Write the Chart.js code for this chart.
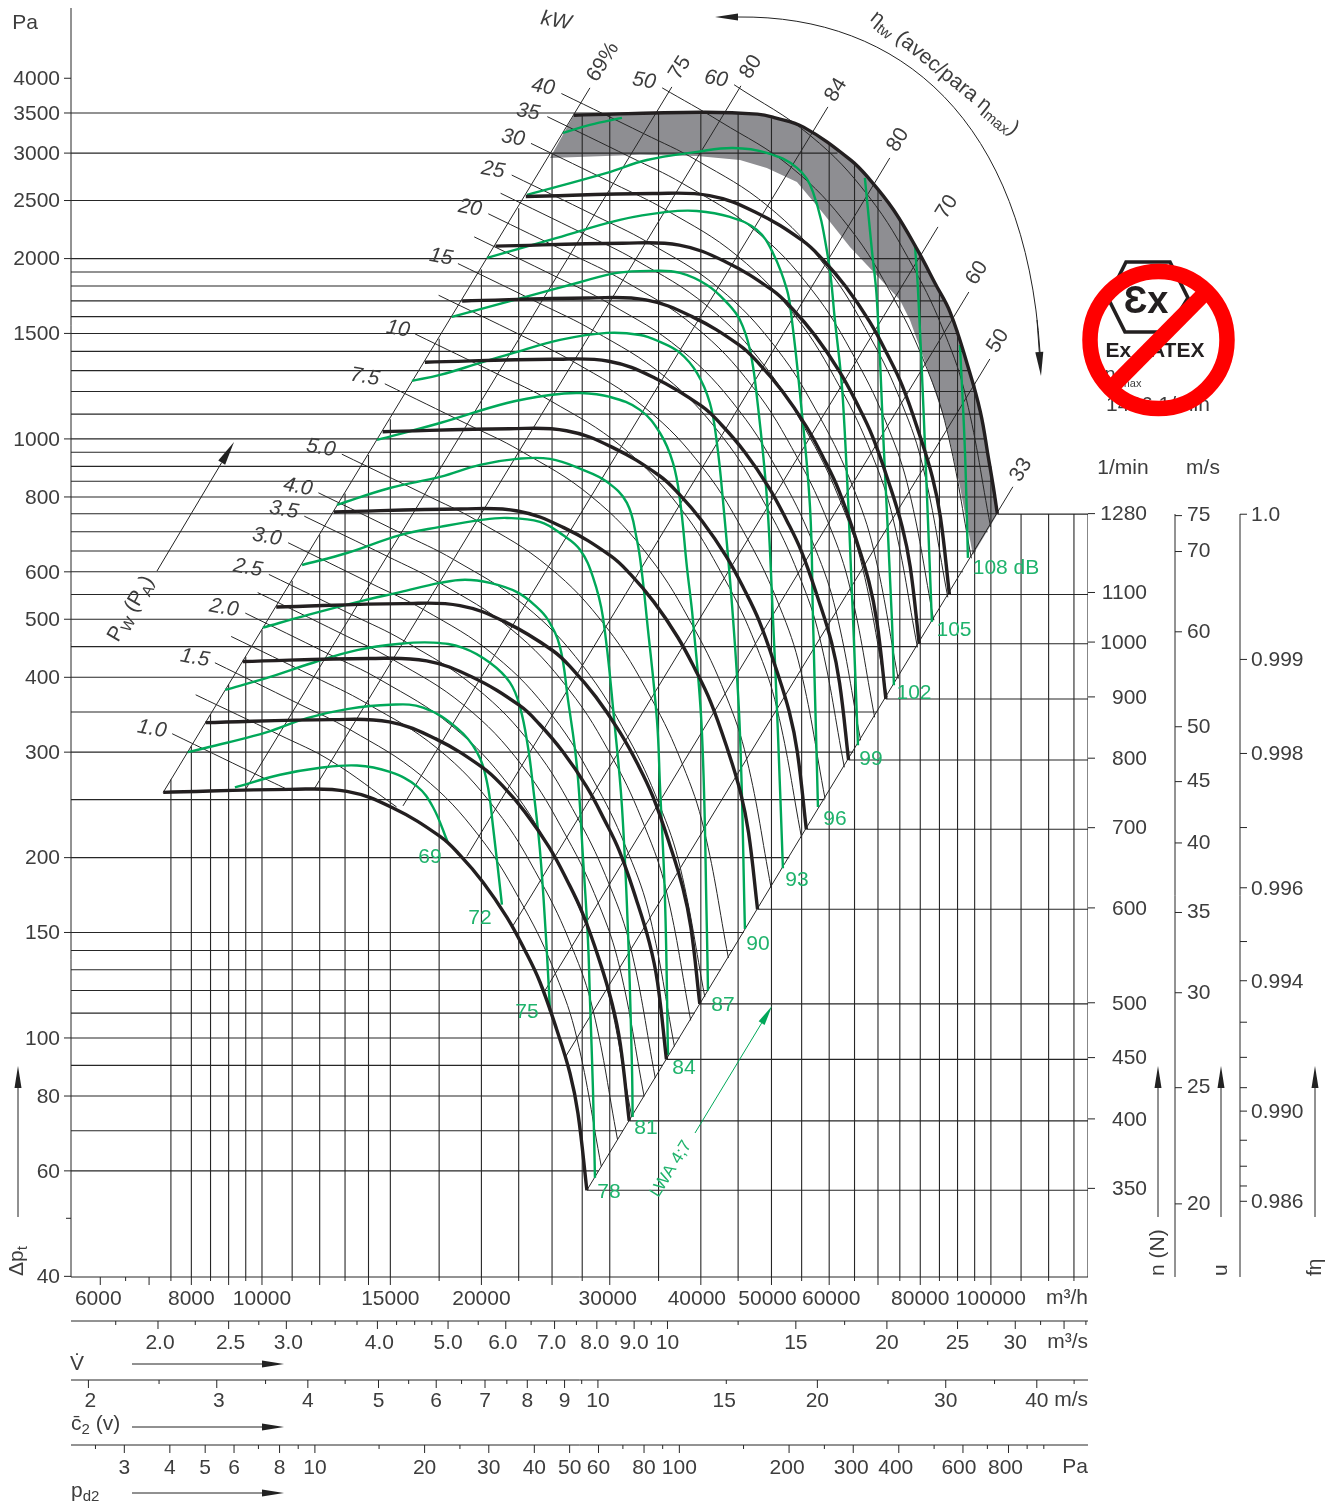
<!DOCTYPE html>
<html>
<head>
<meta charset="utf-8">
<title>Courbe ventilateur</title>
<script src="https://cdn.jsdelivr.net/npm/chart.js@4"></script>
<style>
  html, body { margin: 0; padding: 0; background: #fff; }
  canvas { display: block; }
</style>
</head>
<body>
<canvas id="chart" width="1335" height="1503"></canvas>
<script>
// Axis ranges
const flowMin = 5470, flowMax = 135900;
const dpMin = 39.9, dpMax = 5240;

// Tick values
const flowTicks = [6000,6500,7000,7500,8000,8500,9000,9500,10000,11000,12000,13000,14000,15000,17500,20000,22500,25000,27500,30000,35000,40000,45000,50000,55000,60000,65000,70000,75000,80000,85000,90000,95000,100000,110000,120000,130000];
const flowLong = [6000,7000,8000,9000,10000,12000,14000,15000,20000,25000,30000,40000,50000,60000,70000,80000,100000];
const flowLabels = [6000,8000,10000,15000,20000,30000,40000,50000,60000,80000,100000];
const secTicks = [1.75,2,2.25,2.5,2.75,3,3.25,3.5,3.75,4,4.25,4.5,4.75,5,5.5,6,6.5,7,7.5,8,8.5,9,9.5,10,12.5,15,17.5,20,22.5,25,27.5,30,32.5,35,37.5];
const secLong = [2,2.5,3,4,5,6,7,8,9,10,15,20,25,30,35];
const secLabels = [2,2.5,3,4,5,6,7,8,9,10,15,20,25,30];
const speedTicks = [2,2.5,3,3.5,4,4.5,5,5.5,6,6.5,7,7.5,8,8.5,9,9.5,10,15,20,25,30,35,40,45];
const speedLong = [2,3,4,5,6,7,8,9,10,20,30,40];
const speedLabels = [2,3,4,5,6,7,8,9,10,15,20,30,40];
const pdTicks = [2.5,3,4,5,6,7,8,9,10,15,20,25,30,40,50,60,70,80,90,100,150,200,250,300,400,500,600,700,800,900,1000];
const pdLong = [3,4,5,6,8,10,20,30,40,50,60,80,100,200,300,400,600,800];
const pdLabels = [3,4,5,6,8,10,20,30,40,50,60,80,100,200,300,400,600,800];
const dpTicks = [4000,3500,3000,2500,2000,1500,1000,800,600,500,400,300,200,150,100,80,60,40];
const rpmTicks = [1280,1100,1000,900,800,700,600,500,450,400,350];
const tipTicks = [75,70,60,50,45,40,35,30,25,20];
// f-eta is read against the tip speed it sits next to
const etaTickSpeeds = [75.2,56.9,47.5,41.2,36.7,33.1,30.7,28.35,26.5,25.0,23.9,22.6,21.5,20.7,20.1];
const etaTickLabels = ["1.0","0.999","0.998","","0.996","","0.994","","","","0.990","","","","0.986"];

// Grid lines
const gridV = [7500,8000,8500,9000,9500,10000,11000,12000,13000,14000,15000,17500,20000,22500,25000,27500,30000,35000,40000,45000,50000,55000,60000,65000,70000,75000,80000,85000,90000,95000,100000,110000,120000,130000];
const gridVTop = [270,307,347,389,433,480,580,691,811,940,1079,1469,1918,2428,2997,3460,3490,3510,3510,3500,3430,3300,3100,2865,2620,2340,2050,1780,1520,1240,900,749,749,749];
const gridDp = [3500,3000,2500,2000,1900,1800,1700,1600,1500,1400,1300,1200,1100,1000,950,900,850,800,750,700,650,600,550,500,450,400,350,300,250,200,150,140,130,120,110,100,90,80,70,60];
const gridDpEnd = [45000,61600,70880,80600,82500,84200,86000,88200,89800,91500,93400,95140,96900,98250,98900,99700,100480,101240,102000,98950,95350,91600,87710,83630,79340,74800,69970,64780,59130,52890,45800,44250,42640,40970,39220,37400,35480,33450,31290,28970];

// Efficiency rays, top end then bottom end
const rayLabels = ["69%","75","80","84","80","70","60","50","33"];
const rayTopV = [28180,36500,45400,59760,72660,84600,93280,99680,107200];
const rayTopDp = [3855,3869,3885,3583,2945,2259,1759,1360,832];
const rayLowV = [7320,9477,11785,15610,19100,22100,24450,26030,27910];
const rayLowDp = [257,259,260,244,201,154,120,92.6,55.7];

// Speed curves (thick black)
const rpm350V = [7320,10930,13080,15130,17550,18690,20100,21680,22950,24060,25390,26450,27130,27910];
const rpm350Dp = [257,260,258,242,217,202,182,159,140,124,103,87.4,74.9,55.7];
const rpm400V = [8366,12490,14950,17290,20060,21360,22970,24780,26230,27500,29020,30230,31010,31900];
const rpm400Dp = [336,340,337,316,283,264,238,208,183,162,135,114,97.8,72.7];
const rpm450V = [9411,14050,16820,19450,22560,24030,25840,27870,29510,30930,32640,34010,34880,35880];
const rpm450Dp = [425,430,426,400,359,334,301,263,231,205,170,144,124,92.1];
const rpm500V = [10460,15610,18690,21610,25070,26700,28710,30970,32790,34370,36270,37790,38760,39870];
const rpm500Dp = [524,531,527,494,443,412,371,324,286,253,210,178,153,114];
const rpm600V = [12550,18740,22420,25940,30090,32040,34460,37170,39340,41250,43530,45340,46510,47850];
const rpm600Dp = [755,764,758,711,638,594,535,467,411,364,303,257,220,164];
const rpm700V = [14640,21860,26160,30260,35100,37380,40200,43360,45900,48120,50780,52900,54260,55820];
const rpm700Dp = [1028,1040,1032,968,868,808,728,636,560,496,412,350,300,223];
const rpm800V = [16730,24980,29900,34580,40110,42720,45940,49550,52460,54990,58030,60460,62010,63790];
const rpm800Dp = [1343,1358,1348,1264,1134,1055,951,831,731,648,538,457,391,291];
const rpm900V = [18820,28110,33630,38910,45130,48060,51690,55750,59010,61870,65290,68010,69760,71770];
const rpm900Dp = [1699,1719,1706,1600,1435,1336,1203,1051,926,820,681,578,495,368];
const rpm1000V = [20910,31230,37370,43230,50140,53400,57430,61940,65570,68740,72540,75570,77510,79740];
const rpm1000Dp = [2098,2122,2106,1976,1771,1649,1486,1298,1143,1012,841,713,611,455];
const rpm1100V = [23010,34350,41110,47550,55160,58740,63170,68140,72130,75620,79800,83130,85270,87720];
const rpm1100Dp = [2539,2568,2548,2390,2143,1995,1798,1571,1383,1225,1017,863,740,550];
const rpm1280V = [26770,39970,47830,50600,55330,64180,68350,73510,79290,83930,87990,92850,96730,99220,100790,102070];
const rpm1280Dp = [3470,3510,3485,3435,3315,2923,2702,2413,2068,1814,1624,1330,1110,930,830,749];

// Sound power curves (green)
const db69V = [9180,10590,11900,13500,14980,16320,17160,17990];
const db69Dp = [262,275,282,285,278,263,243,212];
const db72V = [7910,8950,10160,11530,13080,14980,16630,18520,19720,20360,20750,21340];
const db72Dp = [300,311,324,342,354,360,356,329,300,267,225,167];
const db75V = [8900,10160,11750,13500,15470,17160,18870,20550,21890,22590,23170,23540,24060,24520,24840];
const db75Dp = [381,399,423,444,455,457,448,423,392,357,306,263,206,148,111];
const db78V = [10030,11530,13500,15470,17550,18990,20550,22380,23830,24680,25630,26290,27050,27560,28000,28180,28450,28630];
const db78Dp = [484,508,534,555,575,582,575,555,524,499,450,367,283,201,146,116,81.9,58.4];
const db81V = [11350,13080,15470,17550,19910,21680,24060,25870,27310,28450,29360,30490,31180,31780,32180,32250];
const db81Dp = [616,645,691,713,732,738,727,691,653,588,504,330,243,150,89.4,73.8];
const db84V = [12670,14980,17550,19910,22380,24840,27560,29730,31670,32690,33210,33740,34820,35160,35720,36060];
const db84Dp = [776,828,864,905,926,926,888,848,782,678,597,499,340,263,170,93.7];
const db87V = [14380,17550,21680,24840,27310,30030,33000,35160,36630,37450,38280,39010,40140,40780,40910];
const db87Dp = [996,1063,1148,1184,1193,1175,1118,1023,912,791,611,499,323,150,120];
const db90V = [16060,17550,19910,22380,25630,29730,33000,35160,37450,39510,41160,42080,42890,44270,45260,45980];
const db90Dp = [1250,1279,1339,1397,1463,1503,1491,1452,1392,1289,1148,985,791,504,323,152];
const db93V = [18220,23540,27050,30690,34380,37450,40780,43460,45260,46720,47750,49270,50230,51030,51840];
const db93Dp = [1598,1740,1821,1893,1908,1893,1807,1687,1580,1408,1175,800,504,323,192];
const db96V = [20360,25390,30980,35950,39510,43850,47750,50230,52510,53330,54700,56470,57000,57910];
const db96Dp = [2005,2166,2321,2393,2402,2347,2233,2044,1773,1580,1193,770,504,243];
const db99V = [23100,29730,33740,39510,44270,49270,54190,57000,59760,61090,62660,64680,65710];
const db99Dp = [2555,2781,2921,3014,3060,3003,2834,2585,2013,1580,1162,504,308];
const db102LeftV = [25870,28180,31180];
const db102LeftDp = [3242,3344,3434];
const db102RightV = [67160,68660,69760,71320,73150,73610];
const db102RightDp = [2727,2069,1706,958,499,388];
const db105V = [78670,79430,80930,83000];
const db105Dp = [2108,1773,1076,495];
const db108V = [90690,92120,93000];
const db108Dp = [1435,958,633];

// Shaft power curves (thin black)
const kw1V = [7530,9780,10830];
const kw1Dp = [322,276,260];
const kw125V = [8110,10540,12440,15300];
const kw125Dp = [374,321,290,243];
const kw15V = [8618,11190,13210,16540,19870,22890,25270,27040,29210];
const kw15Dp = [423,362,327,274,217,165,128,99.9,61];
const kw175V = [9072,11780,13910,17420,20910,24100,26610,28470,30750];
const kw175Dp = [468,401,362,304,241,183,142,111,67.6];
const kw2V = [9486,12320,14540,18210,21870,25200,27820,29770,32150];
const kw2Dp = [512,438,396,332,263,200,155,121,73.9];
const kw225V = [9865,12810,15130,18940,22740,26210,28930,30960,33440];
const kw225Dp = [554,474,428,359,285,216,168,131,79.9];
const kw25V = [10220,13270,15670,19620,23560,27150,29970,32070,34640];
const kw25Dp = [594,509,460,385,306,232,180,141,85.7];
const kw3V = [10860,14100,16650,20850,25030,28840,31840,34070,36800];
const kw3Dp = [671,574,519,435,345,262,203,159,96.8];
const kw35V = [11430,14850,17530,21940,26350,30370,33520,35870,38740];
const kw35Dp = [743,637,575,482,382,291,225,176,107];
const kw4V = [11950,15520,18320,22940,27550,31750,35050,37500,40510];
const kw4Dp = [813,696,629,527,418,318,246,192,117];
const kw5V = [12870,16720,19740,24720,29680,34200,37760,40400,43640];
const kw5Dp = [943,808,730,612,485,369,286,223,136];
const kw75V = [14740,19140,22600,28290,33970,39150,43220,46250,49950];
const kw75Dp = [1236,1058,956,802,636,483,375,292,178];
const kw10V = [16220,21070,24870,31140,37390,43090,47570,50900,54980];
const kw10Dp = [1497,1282,1158,971,770,585,454,354,216];
const kw125bV = [17470,22700,26790,33540,40280,46420,51240,54830,59220];
const kw125bDp = [1737,1488,1344,1127,894,679,527,411,251];
const kw15bV = [18570,24120,28470,35650,42800,49330,54450,58270,62940];
const kw15bDp = [1962,1680,1517,1272,1009,767,595,464,283];
const kw175bV = [19550,25390,29970,37530,45060,51930,57330,61340,66260];
const kw175bDp = [2174,1862,1682,1410,1118,850,659,514,314];
const kw20V = [20440,26550,31330,39230,47110,54290,59930,64130,69270];
const kw20Dp = [2376,2035,1838,1541,1222,929,721,562,343];
const kw225bV = [21250,27610,32590,40810,48990,56470,62340,66700,72050];
const kw225bDp = [2571,2201,1988,1667,1322,1005,780,608,371];
const kw25bV = [22010,28600,33750,42260,50750,58480,64560,69080,74620];
const kw25bDp = [2757,2361,2133,1789,1418,1078,836,652,398];
const kw30V = [23390,30390,35870,44910,53920,62140,68610,73410,79290];
const kw30Dp = [3114,2667,2409,2020,1602,1217,944,736,449];
const kw35bV = [24630,31990,37760,47280,56770,65420,72230,77280,83480];
const kw35bDp = [3451,2955,2669,2238,1775,1349,1047,816,498];
const kw40V = [25750,33450,39480,49430,59350,68400,75510,80800,87280];
const kw40Dp = [3772,3230,2918,2447,1940,1474,1144,892,544];
const kw50V = [35400,42530,53250,63940,73680,81340,87040,94020];
const kw50Dp = [3855,3386,2839,2252,1711,1328,1035,632];
const kw60V = [44430,56580,67940,78300,86440,92490,99900];
const kw60Dp = [3902,3206,2542,1932,1499,1169,713];

// Grey band under the maximum speed curve
const bandV = [26770,33000,39970,47830,50600,55330,60000,64180,68350,73510,79290,83930,87990,92850,96730,99220,100790,102070,94470,90690,87010,81690,77430,75030,64070,58830,54190,49270,45260,39510,33000,24840];
const bandDp = [3470,3495,3510,3485,3435,3315,3110,2923,2702,2413,2068,1814,1624,1330,1110,930,830,749,640,832,1047,1319,1580,1706,2092,2384,2685,2834,2921,2968,2980,2945];

const rpmCurves = [[rpm350V,rpm350Dp],[rpm400V,rpm400Dp],[rpm450V,rpm450Dp],[rpm500V,rpm500Dp],[rpm600V,rpm600Dp],[rpm700V,rpm700Dp],[rpm800V,rpm800Dp],[rpm900V,rpm900Dp],[rpm1000V,rpm1000Dp],[rpm1100V,rpm1100Dp],[rpm1280V,rpm1280Dp]];
const dbCurves = [[db69V,db69Dp],[db72V,db72Dp],[db75V,db75Dp],[db78V,db78Dp],[db81V,db81Dp],[db84V,db84Dp],[db87V,db87Dp],[db90V,db90Dp],[db93V,db93Dp],[db96V,db96Dp],[db99V,db99Dp],[db102LeftV,db102LeftDp],[db102RightV,db102RightDp],[db105V,db105Dp],[db108V,db108Dp]];
const kwCurves = [[kw1V,kw1Dp],[kw125V,kw125Dp],[kw15V,kw15Dp],[kw175V,kw175Dp],[kw2V,kw2Dp],[kw225V,kw225Dp],[kw25V,kw25Dp],[kw3V,kw3Dp],[kw35V,kw35Dp],[kw4V,kw4Dp],[kw5V,kw5Dp],[kw75V,kw75Dp],[kw10V,kw10Dp],[kw125bV,kw125bDp],[kw15bV,kw15bDp],[kw175bV,kw175bDp],[kw20V,kw20Dp],[kw225bV,kw225bDp],[kw25bV,kw25bDp],[kw30V,kw30Dp],[kw35bV,kw35bDp],[kw40V,kw40Dp],[kw50V,kw50Dp],[kw60V,kw60Dp]];

const FONT = '"Liberation Sans", Arial, sans-serif';
const INK = "#3d3d3d";
const LINE = "#262626";
const BLACK = "#231f20";
const GREEN = "#00a859";
const GREEN_TEXT = "#1fb36c";

function lineSet(vs, dps, style) {
  return Object.assign({
    data: vs.map((v, i) => ({ x: v, y: dps[i] })),
    showLine: true,
    pointRadius: 0,
    borderColor: LINE,
    borderWidth: 1.1,
    tension: 0,
    xAxisID: "x",
    yAxisID: "y"
  }, style);
}

const datasets = [];
rpmCurves.forEach(c => datasets.push(lineSet(c[0], c[1], { borderColor: BLACK, borderWidth: 3.4, tension: 0.4, order: 1 })));
dbCurves.forEach(c => datasets.push(lineSet(c[0], c[1], { borderColor: GREEN, borderWidth: 2.4, tension: 0.4, order: 2 })));
kwCurves.forEach(c => datasets.push(lineSet(c[0], c[1], { borderWidth: 1, tension: 0.4, order: 3 })));
rayTopV.forEach((v, i) => datasets.push(lineSet([rayLowV[i], v], [rayLowDp[i], rayTopDp[i]], { borderWidth: 1, order: 3 })));
gridV.forEach((v, i) => datasets.push(lineSet([v, v], [dpMin, gridVTop[i]], { order: 4 })));
datasets.push(lineSet([flowMax, flowMax], [dpMin, 749], { order: 4 }));
gridDp.forEach((d, i) => datasets.push(lineSet([flowMin, gridDpEnd[i]], [d, d], { order: 4 })));
rpmCurves.forEach(c => {
  const n = c[0].length - 1;
  datasets.push(lineSet([c[0][n], flowMax], [c[1][n], c[1][n]], { order: 4 }));
});
datasets.push(lineSet(bandV, bandDp, { borderWidth: 0, fill: "shape", backgroundColor: "#8e8e92", order: 5 }));

// Log axis whose ticks come from one list; the marks themselves are drawn in ruledAxes
function logAxis(position, weight, size, min, max, ticks, labelOf, tickOpts) {
  const vertical = position === "left" || position === "right";
  return {
    type: "logarithmic",
    position, weight, min, max,
    bounds: "data",
    grid: { display: false, drawTicks: false },
    border: { display: false },
    ticks: Object.assign({
      autoSkip: false, maxRotation: 0, minRotation: 0,
      color: INK, font: { family: FONT, size: 21 },
      callback: labelOf
    }, tickOpts),
    afterBuildTicks: scale => { scale.ticks = ticks.map(v => ({ value: v })); },
    afterFit: scale => {
      if (vertical) scale.width = size; else scale.height = size;
      scale.paddingLeft = scale.paddingRight = scale.paddingTop = scale.paddingBottom = 0;
    }
  };
}

const labelIn = (list, fmt) => v => list.includes(v) ? (fmt ? fmt(v) : String(v)) : "";

function hRule(ctx, scale, all, long) {
  ctx.beginPath();
  ctx.moveTo(71, scale.top); ctx.lineTo(1088, scale.top);
  all.forEach(v => {
    const x = scale.getPixelForValue(v);
    ctx.moveTo(x, scale.top);
    ctx.lineTo(x, scale.top + (long.includes(v) ? 8 : 4));
  });
  ctx.stroke();
}

function vRule(ctx, scale, all) {
  ctx.beginPath();
  ctx.moveTo(scale.left, 514); ctx.lineTo(scale.left, 1277);
  all.forEach(v => {
    const y = scale.getPixelForValue(v);
    ctx.moveTo(scale.left, y);
    ctx.lineTo(scale.left + 7, y);
  });
  ctx.stroke();
}

function text(ctx, str, x, y, deg, font, color, align) {
  ctx.save();
  ctx.translate(x, y);
  ctx.rotate((deg || 0) * Math.PI / 180);
  ctx.font = font || "21px " + FONT;
  ctx.fillStyle = color || INK;
  ctx.textAlign = align || "center";
  ctx.textBaseline = "middle";
  ctx.fillText(str, 0, 0);
  ctx.restore();
}

// Text with subscripts, starting at x,y
function runs(ctx, parts, x, y, deg, size, color) {
  ctx.save();
  ctx.translate(x, y);
  ctx.rotate((deg || 0) * Math.PI / 180);
  ctx.fillStyle = color || INK;
  ctx.textAlign = "left";
  ctx.textBaseline = "middle";
  let at = 0;
  parts.forEach(p => {
    ctx.font = (p.sub ? Math.round(size * 0.7) : size) + "px " + FONT;
    ctx.fillText(p.t, at, p.sub ? size * 0.3 : 0);
    at += ctx.measureText(p.t).width;
  });
  ctx.restore();
}

function arrow(ctx, x1, y1, x2, y2, len, half, color) {
  const a = Math.atan2(y2 - y1, x2 - x1);
  const bx = x2 - len * Math.cos(a), by = y2 - len * Math.sin(a);
  ctx.strokeStyle = color; ctx.fillStyle = color; ctx.lineWidth = 1;
  ctx.beginPath(); ctx.moveTo(x1, y1); ctx.lineTo(bx, by); ctx.stroke();
  ctx.beginPath();
  ctx.moveTo(x2, y2);
  ctx.lineTo(bx - half * Math.sin(a), by + half * Math.cos(a));
  ctx.lineTo(bx + half * Math.sin(a), by - half * Math.cos(a));
  ctx.closePath(); ctx.fill();
}

function drawExMark(ctx) {
  ctx.save();
  ctx.strokeStyle = BLACK; ctx.lineWidth = 3.6; ctx.lineJoin = "miter";
  ctx.beginPath();
  ctx.moveTo(1108, 298); ctx.lineTo(1126, 262); ctx.lineTo(1170, 262);
  ctx.lineTo(1188, 298); ctx.lineTo(1167, 332); ctx.lineTo(1125, 332);
  ctx.closePath(); ctx.stroke();
  text(ctx, "Ɛx", 1146, 303, 0, "bold 38px " + FONT, BLACK);
  text(ctx, "Ex - ATEX", 1155, 351, 0, "bold 21px " + FONT, BLACK);
  text(ctx, "n", 1110, 375, 0, "20px " + FONT);
  text(ctx, "max", 1131, 384, 0, "11px " + FONT);
  ctx.beginPath(); ctx.rect(1090, 390, 140, 21); ctx.clip();
  text(ctx, "1426 1/min", 1158, 405, 0, "21px " + FONT);
  ctx.restore();
  ctx.strokeStyle = "#ff0000"; ctx.lineWidth = 15.5;
  ctx.beginPath(); ctx.arc(1158.5, 340, 68.5, 0, Math.PI * 2); ctx.stroke();
  ctx.beginPath(); ctx.moveTo(1110, 389); ctx.lineTo(1207, 291); ctx.stroke();
}

// Small per-label shifts so tick texts sit where the printed sheet has them
const labelNudgeX = {
  x: { "6000": -2, "30000": -2, "40000": -4, "50000": -4, "60000": 2 },
  sec: { "2.0": 2, "2.5": 2, "3.0": 2, "4.0": 2, "6.0": -3, "7.0": -3, "8.0": -2 },
  speed: { "2": 2, "3": 2, "15": -2 },
  pd: { "200": -2, "300": -2, "400": -3, "600": -4, "800": -3 }
};
const labelNudgeY = { y: 1, rpm: 1, eta: 1 };

const ruledAxes = {
  id: "ruledAxes",
  beforeDraw(chart) {
    Object.keys(chart.scales).forEach(id => {
      const byLabel = labelNudgeX[id] || {};
      chart.scales[id].getLabelItems().forEach(item => {
        item.options.translation[0] += byLabel[item.label] || 0;
        item.options.translation[1] += labelNudgeY[id] || 0;
      });
    });
  },
  afterDraw(chart) {
    const ctx = chart.ctx, s = chart.scales;
    ctx.save();
    ctx.strokeStyle = LINE; ctx.lineWidth = 1;
    hRule(ctx, s.x, flowTicks, flowLong);
    hRule(ctx, s.sec, secTicks, secLong);
    hRule(ctx, s.speed, speedTicks, speedLong);
    hRule(ctx, s.pd, pdTicks, pdLong);
    vRule(ctx, s.tip, tipTicks);
    vRule(ctx, s.eta, etaTickSpeeds);
    ctx.beginPath();
    ctx.moveTo(71, 8); ctx.lineTo(71, 1277);
    dpTicks.forEach(v => { const y = s.y.getPixelForValue(v); ctx.moveTo(64, y); ctx.lineTo(71, y); });
    const y50 = s.y.getPixelForValue(50);
    ctx.moveTo(66, y50); ctx.lineTo(71, y50);
    rpmTicks.forEach(v => { const y = s.rpm.getPixelForValue(v); ctx.moveTo(1088, y); ctx.lineTo(1095, y); });
    ctx.stroke();

    // Unit captions
    text(ctx, "Pa", 25, 23);
    text(ctx, "1/min", 1123, 468);
    text(ctx, "m/s", 1203, 468);
    text(ctx, "m³/h", 1088, 1298, 0, null, null, "right");
    text(ctx, "m³/s", 1088, 1342, 0, null, null, "right");
    text(ctx, "m/s", 1088, 1400, 0, null, null, "right");
    text(ctx, "Pa", 1088, 1467, 0, null, null, "right");
    text(ctx, "V̇", 77, 1364);
    runs(ctx, [{ t: "c̄" }, { t: "2", sub: true }, { t: " (v)" }], 71, 1424, 0, 21);
    runs(ctx, [{ t: "p" }, { t: "d2", sub: true }], 71, 1491, 0, 21);
    arrow(ctx, 132, 1364, 284, 1364, 22, 3.5, "#222");
    arrow(ctx, 132, 1427, 284, 1427, 22, 3.5, "#222");
    arrow(ctx, 132, 1493, 284, 1493, 22, 3.5, "#222");

    // Rotated axis names and their arrows
    runs(ctx, [{ t: "Δp" }, { t: "t", sub: true }], 17, 1276, -90, 21);
    runs(ctx, [{ t: "n (N)" }], 1158, 1276, -90, 21);
    runs(ctx, [{ t: "u" }], 1221, 1276, -90, 21);
    runs(ctx, [{ t: "fη" }], 1315, 1276, -90, 21);
    arrow(ctx, 18, 1217, 18, 1066, 22, 3.5, "#222");
    arrow(ctx, 1158, 1217, 1158, 1066, 22, 3.5, "#222");
    arrow(ctx, 1221, 1217, 1221, 1066, 22, 3.5, "#222");
    arrow(ctx, 1315, 1217, 1315, 1066, 22, 3.5, "#222");

    // Ray labels
    const rayLabelAt = [[603,62],[680,68],[751,67],[836,90],[898,140],[947,207],[977,273],[998,341],[1021,470]];
    rayLabels.forEach((t, i) => text(ctx, t, rayLabelAt[i][0], rayLabelAt[i][1], -58));

    // Power labels
    const kwItalic = "italic 21px " + FONT;
    const kwLabels = ["1.0","1.5","2.0","2.5","3.0","3.5","4.0","5.0","7.5","10","15","20","25","30","35","40","50","60"];
    const kwLabelAt = [[152,729],[195,658],[224,608],[248,568],[267,537],[284,510],[298,487],[321,448],[365,377],[398,329],[441,257],[470,208],[493,170],[513,138],[528,112],[543,87],[644,81],[716,79]];
    kwLabels.forEach((t, i) => text(ctx, t, kwLabelAt[i][0], kwLabelAt[i][1], 10, kwItalic));
    text(ctx, "kW", 556, 21, 10, kwItalic);

    // Sound labels
    const dbLabels = ["69","72","75","78","81","84","87","90","93","96","99","102","105","108 dB"];
    const dbLabelAt = [[430,857],[480,918],[527,1012],[609,1192],[646,1128],[684,1068],[723,1005],[758,944],[797,880],[835,819],[871,759],[914,693],[954,630],[1006,568]];
    dbLabels.forEach((t, i) => text(ctx, t, dbLabelAt[i][0], dbLabelAt[i][1], 0, null, GREEN_TEXT));
    text(ctx, "LWA 4;7", 671, 1169, -58, "17px " + FONT, GREEN_TEXT);
    arrow(ctx, 695, 1133, 772, 1006, 20, 3.5, GREEN);

    // P_W label and arrow
    runs(ctx, [{ t: "P" }, { t: "W", sub: true }, { t: " (P" }, { t: "A", sub: true }, { t: ")" }], 113, 640, -60, 21);
    arrow(ctx, 157, 571, 234, 442, 24, 4, "#222");

    // Efficiency caption and its curved arrow
    runs(ctx, [{ t: "η" }, { t: "tw", sub: true }, { t: " (avec/para η" }, { t: "max", sub: true }, { t: ")" }], 873, 15, 39, 21);
    ctx.strokeStyle = "#222"; ctx.lineWidth = 1;
    ctx.beginPath();
    ctx.moveTo(738, 17);
    ctx.bezierCurveTo(900, 15, 1025, 120, 1040, 352);
    ctx.stroke();
    arrow(ctx, 738, 17, 715, 17, 23, 3.5, "#222");
    arrow(ctx, 1037, 320, 1041, 376, 24, 4, "#222");

    drawExMark(ctx);
    ctx.restore();
  }
};

new Chart(document.getElementById("chart"), {
  type: "scatter",
  data: { datasets },
  options: {
    responsive: false,
    animation: false,
    events: [],
    layout: { padding: { top: 8 } },
    plugins: { legend: { display: false }, tooltip: { enabled: false } },
    scales: {
      x: logAxis("bottom", 0, 44, flowMin, flowMax, flowTicks, labelIn(flowLabels), { padding: 10 }),
      sec: logAxis("bottom", 1, 59, flowMin / 3600, flowMax / 3600, secTicks, labelIn(secLabels, v => v < 10 ? v.toFixed(1) : String(v)), { padding: 10 }),
      speed: logAxis("bottom", 2, 65, 1.893, 47.02, speedTicks, labelIn(speedLabels), { padding: 9 }),
      pd: logAxis("bottom", 3, 58, 2.142, 1322, pdTicks, labelIn(pdLabels), { padding: 11 }),
      y: logAxis("left", 0, 71, dpMin, dpMax, dpTicks, labelIn(dpTicks), { padding: 11 }),
      rpm: logAxis("right", 0, 59, 295.2, 3382, rpmTicks, labelIn(rpmTicks), { padding: 12, crossAlign: "far" }),
      rpmGap: logAxis("right", 0.5, 28, 1, 10, [], () => "", {}),
      tip: logAxis("right", 1, 65, 17.38, 198.8, tipTicks, labelIn(tipTicks), { padding: 12 }),
      eta: logAxis("right", 2, 95, 17.38, 198.8, etaTickSpeeds, v => etaTickLabels[etaTickSpeeds.indexOf(v)], { padding: 11 })
    }
  },
  plugins: [ruledAxes]
});
</script>
</body>
</html>
